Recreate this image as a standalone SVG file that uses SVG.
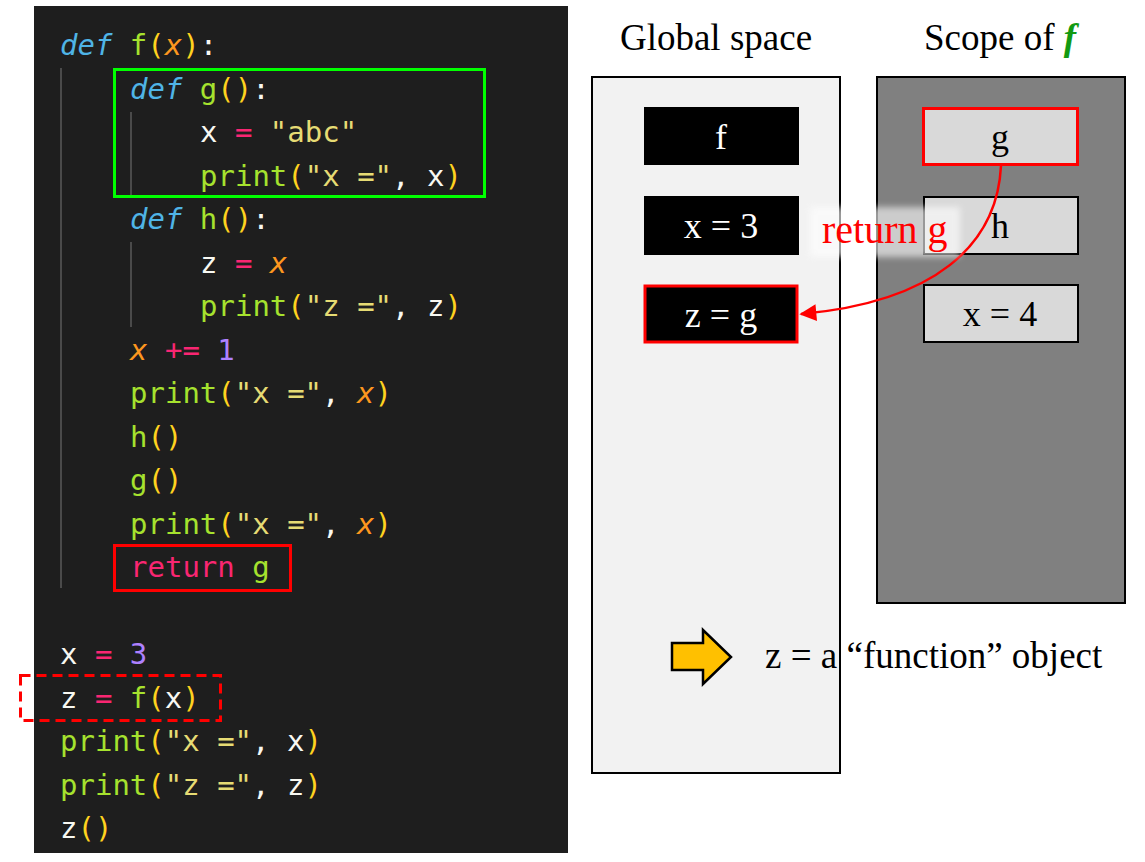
<svg xmlns="http://www.w3.org/2000/svg" width="1145" height="862" viewBox="0 0 1145 862">
<defs>
<style>
.code{font-family:"DejaVu Sans Mono","Liberation Mono",monospace;font-size:29px;fill:#f8f8f2}
.kw{fill:#4fb4e6;font-style:italic}
.fn{fill:#a6e22e}
.p{fill:#ffd21f}
.prm{fill:#fd971f;font-style:italic}
.op{fill:#f92672}
.str{fill:#e6db74}
.num{fill:#ae81ff}
.guide{stroke:#4a4a4a;stroke-width:2}
.serif{font-family:"Liberation Serif","Times New Roman",serif}
.title{font-size:37px;fill:#000;text-anchor:middle}
.bnode{fill:#000}
.gnode{fill:#d9d9d9;stroke:#000;stroke-width:2}
.wtxt{fill:#fff;font-size:36px;text-anchor:middle}
.ktxt{fill:#000;font-size:36px;text-anchor:middle}
</style>
<marker id="ah" viewBox="0 0 10 10" refX="9" refY="5" markerWidth="18" markerHeight="17" markerUnits="userSpaceOnUse" orient="auto">
<path d="M0,0 L10,5 L0,10 z" fill="#ff0000"/>
</marker>
<filter id="blur" x="-20%" y="-30%" width="140%" height="160%">
<feGaussianBlur stdDeviation="3"/>
</filter>
</defs>
<rect width="1145" height="862" fill="#ffffff"/>

<g id="code-panel">
<rect x="34" y="6" width="534" height="847" fill="#1e1e1e"/>
<line class="guide" x1="61" y1="68" x2="61" y2="588"/>
<line class="guide" x1="131" y1="112" x2="131" y2="195"/>
<line class="guide" x1="131" y1="242" x2="131" y2="327"/>
<g class="code">
<text x="60" y="55"><tspan class="kw">def</tspan> <tspan class="fn">f</tspan><tspan class="p">(</tspan><tspan class="prm">x</tspan><tspan class="p">)</tspan>:</text>
<text x="130" y="98.5"><tspan class="kw">def</tspan> <tspan class="fn">g</tspan><tspan class="p">()</tspan>:</text>
<text x="200" y="142">x <tspan class="op">=</tspan> <tspan class="str">"abc"</tspan></text>
<text x="200" y="185.5"><tspan class="fn">print</tspan><tspan class="p">(</tspan><tspan class="str">"x ="</tspan>, x<tspan class="p">)</tspan></text>
<text x="130" y="229"><tspan class="kw">def</tspan> <tspan class="fn">h</tspan><tspan class="p">()</tspan>:</text>
<text x="200" y="272.5">z <tspan class="op">=</tspan> <tspan class="prm">x</tspan></text>
<text x="200" y="316"><tspan class="fn">print</tspan><tspan class="p">(</tspan><tspan class="str">"z ="</tspan>, z<tspan class="p">)</tspan></text>
<text x="130" y="359.5"><tspan class="prm">x</tspan> <tspan class="op">+=</tspan> <tspan class="num">1</tspan></text>
<text x="130" y="403"><tspan class="fn">print</tspan><tspan class="p">(</tspan><tspan class="str">"x ="</tspan>, <tspan class="prm">x</tspan><tspan class="p">)</tspan></text>
<text x="130" y="446.5"><tspan class="fn">h</tspan><tspan class="p">()</tspan></text>
<text x="130" y="490"><tspan class="fn">g</tspan><tspan class="p">()</tspan></text>
<text x="130" y="533.5"><tspan class="fn">print</tspan><tspan class="p">(</tspan><tspan class="str">"x ="</tspan>, <tspan class="prm">x</tspan><tspan class="p">)</tspan></text>
<text x="130" y="577"><tspan class="op">return</tspan> <tspan class="fn">g</tspan></text>
<text x="60" y="664">x <tspan class="op">=</tspan> <tspan class="num">3</tspan></text>
<text x="60" y="707.5">z <tspan class="op">=</tspan> <tspan class="fn">f</tspan><tspan class="p">(</tspan>x<tspan class="p">)</tspan></text>
<text x="60" y="751"><tspan class="fn">print</tspan><tspan class="p">(</tspan><tspan class="str">"x ="</tspan>, x<tspan class="p">)</tspan></text>
<text x="60" y="794.5"><tspan class="fn">print</tspan><tspan class="p">(</tspan><tspan class="str">"z ="</tspan>, z<tspan class="p">)</tspan></text>
<text x="60" y="838">z<tspan class="p">()</tspan></text>
</g>
</g>

<g id="highlight-g">
<rect x="114.5" y="69.5" width="370" height="127" fill="none" stroke="#00ff00" stroke-width="3"/>
</g>
<g id="highlight-return">
<rect x="114.5" y="545.5" width="176" height="45" fill="none" stroke="#ff0000" stroke-width="3"/>
</g>
<g id="highlight-call">
<rect x="20.5" y="675.5" width="200" height="45" fill="none" stroke="#ff0000" stroke-width="3" stroke-dasharray="10,6"/>
</g>

<g id="global-space">
<text class="serif title" x="716" y="50">Global space</text>
<rect x="592" y="77" width="248" height="696" fill="#f2f2f2" stroke="#000" stroke-width="2"/>
</g>
<g id="scope-f">
<text class="serif title" x="1000" y="50">Scope of <tspan fill="#129a12" font-weight="bold" font-style="italic">f</tspan></text>
<rect x="877" y="77" width="248" height="526" fill="#808080" stroke="#000" stroke-width="2"/>
</g>

<g id="node-f">
<rect class="bnode" x="644" y="107" width="155" height="58"/>
<text class="serif wtxt" x="721" y="149">f</text>
</g>
<g id="node-x3">
<rect class="bnode" x="644" y="196" width="155" height="59"/>
<text class="serif wtxt" x="721" y="238">x = 3</text>
</g>
<g id="node-zg">
<rect x="645" y="286" width="152" height="56" fill="#000" stroke="#ff0000" stroke-width="3"/>
<text class="serif wtxt" x="721" y="327">z = g</text>
</g>
<g id="node-g">
<rect x="923.5" y="108.5" width="154" height="56" fill="#d9d9d9" stroke="#ff0000" stroke-width="3"/>
<text class="serif ktxt" x="1000" y="149">g</text>
</g>
<g id="node-h">
<rect class="gnode" x="924" y="197" width="154" height="57"/>
<text class="serif ktxt" x="1000" y="238">h</text>
</g>
<g id="node-x4">
<rect class="gnode" x="924" y="285" width="154" height="57"/>
<text class="serif ktxt" x="1000" y="326">x = 4</text>
</g>

<g id="connectors">
<path d="M1001,166 C997,245 935,302 801,314" fill="none" stroke="#ff0000" stroke-width="2.5" marker-end="url(#ah)"/>
<rect x="810" y="207" width="150" height="50" fill="#ffffff" opacity="0.6" filter="url(#blur)"/>
<text class="serif" x="822" y="243" font-size="40" fill="#ff0000">return g</text>
</g>

<g id="note">
<path d="M672,643 L703,643 L703,630 L731,657 L703,684 L703,670 L672,670 Z" fill="#ffc000" stroke="#000" stroke-width="2.5" stroke-linejoin="miter"/>
<text class="serif" x="765" y="668" font-size="37" fill="#000">z = a “function” object</text>
</g>
</svg>
